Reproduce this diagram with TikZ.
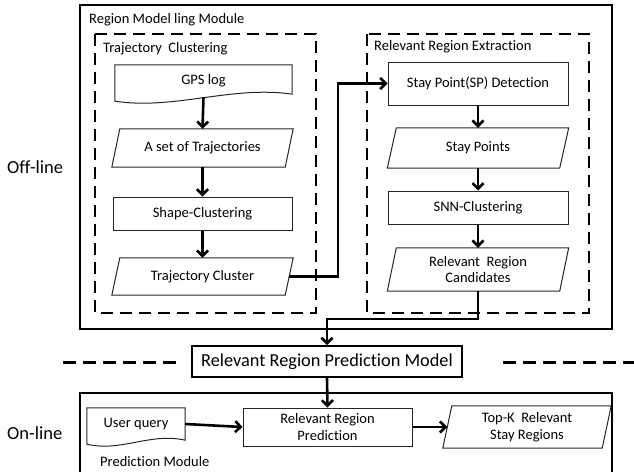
\documentclass[tikz,border=0pt]{standalone}
\usepackage{fontspec}
\setmainfont[Ligatures=NoCommon]{Carlito}
\usetikzlibrary{arrows.meta,calc}
\begin{document}
\begin{tikzpicture}[x=1pt,y=-1pt,
  txt/.style={font=\fontsize{14.5}{16.5}\selectfont},
  boxline/.style={draw=black!85,line width=1pt},
  procbox/.style={boxline,txt,rectangle,inner sep=2pt,align=center},
  databox/.style={txt,rectangle,draw=none,inner sep=2pt,align=center},
  docbox/.style={txt,rectangle,draw=none,inner sep=2pt,align=center},
  flow/.style={line width=2.6pt,-{Straight Barb[length=5.5pt,width=11pt]}},
  module/.style={line width=2pt},
  group/.style={line width=1.8pt,dash pattern=on 12pt off 7pt},
  sep/.style={line width=3pt,dash pattern=on 13pt off 7pt},
  lbl/.style={txt,anchor=west,inner sep=0pt}
]
\useasboundingbox (0,0) rectangle (634,472);

% module frames
\draw[module] (80,5) rectangle (612,329);
\draw[group] (95,34) rectangle (316,313);
\draw[group] (367,34) rectangle (589,313);
\draw[module] (80,472) -- (80,393) -- (612,393) -- (612,472);

% separators
\draw[sep] (63,362) -- (180,362);
\draw[sep] (503,362) -- (634,362);

% labels
\node[lbl] (lmod) at (89,20) {Region Model ling Module};
\node[lbl] (ltc) at (103,49) {Trajectory\ \ Clustering};
\node[lbl] (lrre) at (374,47) {Relevant Region Extraction};
\node[lbl] (lpm) at (100,462) {Prediction Module};
\node[lbl,font=\fontsize{18.5}{20}\selectfont] (loff) at (7,167) {Off-line};
\node[lbl,font=\fontsize{18.5}{20}\selectfont] (lon) at (7,433) {On-line};

% left column
\node[docbox,minimum width=177pt,minimum height=32pt] (gps) at (203.5,81) {GPS log};
\draw[boxline] (gps.south west) -- (gps.north west) -- (gps.north east) -- ([yshift=3pt]gps.south east)
  .. controls +(-60,-9) and +(60,9) .. ([yshift=-4pt]gps.south west) -- cycle;

\node[databox,minimum width=173pt,minimum height=38pt] (set) at (202.5,148) {A set of Trajectories};
\draw[boxline] ([xshift=-4pt]set.south west) -- ([xshift=4pt]set.north west) -- ([xshift=4pt]set.north east) -- ([xshift=-4pt]set.south east) -- cycle;

\node[procbox,minimum width=179pt,minimum height=33pt] (shape) at (202.5,213.5) {Shape-Clustering};

\node[databox,minimum width=173pt,minimum height=37pt] (tc) at (202.5,276.5) {Trajectory Cluster};
\draw[boxline] ([xshift=-4pt]tc.south west) -- ([xshift=4pt]tc.north west) -- ([xshift=4pt]tc.north east) -- ([xshift=-4pt]tc.south east) -- cycle;

% right column
\node[procbox,minimum width=180pt,minimum height=43pt] (sp) at (478,83.5) {Stay Point(SP) Detection};

\node[databox,minimum width=172pt,minimum height=40pt] (stay) at (478,148) {Stay Points};
\draw[boxline] ([xshift=-4.5pt]stay.south west) -- ([xshift=4.5pt]stay.north west) -- ([xshift=4.5pt]stay.north east) -- ([xshift=-4.5pt]stay.south east) -- cycle;

\node[procbox,minimum width=180pt,minimum height=33pt] (snn) at (478,207.5) {SNN-Clustering};

\node[databox,minimum width=172pt,minimum height=43pt] (rrc) at (478,269.5) {Relevant\ \ Region\\Candidates};
\draw[boxline] ([xshift=-4.5pt]rrc.south west) -- ([xshift=4.5pt]rrc.north west) -- ([xshift=4.5pt]rrc.north east) -- ([xshift=-4.5pt]rrc.south east) -- cycle;

% model
\node[rectangle,draw=black,line width=2pt,minimum width=270pt,minimum height=31pt,inner sep=2pt,
  font=\fontsize{18.3}{20}\selectfont] (model) at (327,361.5) {Relevant Region Prediction Model};

% online
\node[docbox,minimum width=98pt,minimum height=32pt] (uq) at (136,424) {User query};
\draw[boxline] (uq.south west) -- (uq.north west) -- (uq.north east) -- ([yshift=0pt]uq.south east)
  .. controls +(-35,-8) and +(35,8) .. ([yshift=-4pt]uq.south west) -- cycle;

\node[procbox,minimum width=169pt,minimum height=38pt] (rrp) at (327.5,427) {Relevant Region\\Prediction};

\node[databox,minimum width=159pt,minimum height=42pt] (topk) at (527,427) {Top-K\ \ Relevant\\Stay Regions};
\draw[boxline] ([xshift=-4.5pt]topk.south west) -- ([xshift=4.5pt]topk.north west) -- ([xshift=4.5pt]topk.north east) -- ([xshift=-4.5pt]topk.south east) -- cycle;

% junction coordinates
\coordinate (j1) at (338,0);
\coordinate (j2) at (327,319);

% connectors
\draw[flow] (gps.south) -- (set.north);
\draw[flow] (set.south) -- (shape.north);
\draw[flow] (shape.south) -- (tc.north);
\draw[flow] (tc.east) -- (tc.east -| j1) |- (sp.west);
\draw[flow] (sp.south) -- (stay.north);
\draw[flow] (stay.south) -- (snn.north);
\draw[flow] (snn.south) -- (rrc.north);
\draw[flow] (rrc.south) |- (j2) -- (model.north);
\draw[flow] (model.south) -- (rrp.north);
\draw[flow] (uq.east) -- (rrp.west);
\draw[flow] (rrp.east) -- (topk.west);
\end{tikzpicture}
\end{document}
